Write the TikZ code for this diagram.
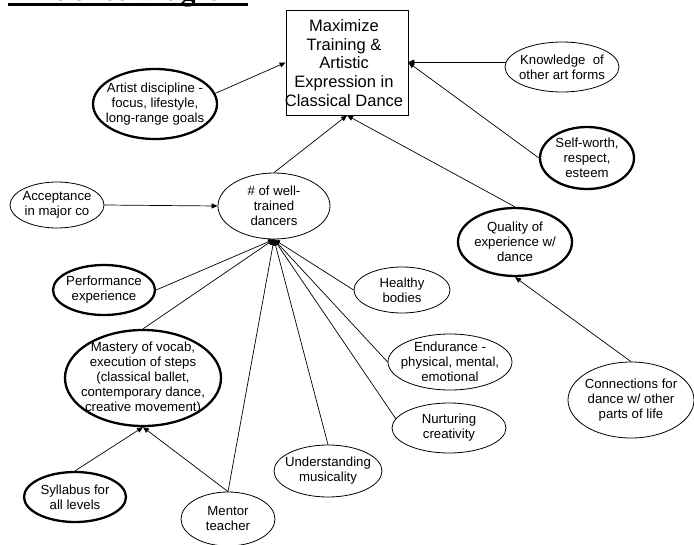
\documentclass[tikz,border=0pt]{standalone}
\usepackage{fontspec}
\setmainfont{Liberation Sans}
\newfontfamily\titlefont{Liberation Serif}
\usetikzlibrary{shapes.geometric,arrows.meta}
\begin{document}
\begin{tikzpicture}[x=1pt,y=-1pt,
  elli/.style={ellipse,draw,line width=0.8pt,inner sep=0pt},
  thk/.style={line width=2.3pt},
  txt/.style={align=center,font=\fontsize{13.2}{15}\selectfont,inner sep=0pt},
  bigtxt/.style={align=center,font=\fontsize{16.5}{18.7}\selectfont,inner sep=0pt},
  arr/.style={line width=0.7pt,-{Triangle[length=6pt,width=5pt]}}]
\useasboundingbox (0,0) rectangle (694,544);
% title (clipped at the top of the page)
\node[anchor=base west,inner sep=0pt,font={\titlefont\fontsize{30}{30}\selectfont\bfseries}] (title) at (8,0.5) {Influence Diagram};
\draw[line width=2.5pt] (8,4.6) -- (248,4.6);
% goal box
\node[draw,line width=0.8pt,minimum width=122pt,minimum height=105pt,inner sep=0pt] (goal) at (347,62.5) {};
\node[bigtxt] (goaltxt) at (344,63) {Maximize\\Training \&\\Artistic\\Expression in\\Classical Dance};
% ellipses
\node[elli,thk,minimum width=124pt,minimum height=70pt,label={[txt]center:Artist discipline -\\focus, lifestyle,\\long-range goals}] (art) at (155,104) {};
\node[elli,minimum width=114pt,minimum height=50pt,label={[txt]center:Knowledge\ \ of\\other art forms}] (kn) at (562,67) {};
\node[elli,thk,minimum width=94pt,minimum height=62pt,label={[txt]center:Self-worth,\\respect,\\esteem}] (self) at (587,158) {};
\node[elli,thk,minimum width=114pt,minimum height=68pt,label={[txt]center:Quality of\\experience w/\\dance}] (qual) at (515,242) {};
\node[elli,minimum width=112pt,minimum height=66pt,label={[txt]center:\# of well-\\trained\\dancers}] (d) at (274,206) {};
\node[elli,minimum width=94pt,minimum height=46pt,label={[txt]center:Acceptance\\in major co}] (acc) at (57,205) {};
\node[elli,thk,minimum width=102pt,minimum height=50pt,label={[txt]center:Performance\\experience}] (perf) at (104,290) {};
\node[elli,minimum width=96pt,minimum height=46pt,label={[txt]center:Healthy\\bodies}] (heal) at (402,290) {};
\node[elli,minimum width=124pt,minimum height=56pt,label={[txt]center:Endurance -\\physical, mental,\\emotional}] (endu) at (450,362) {};
\node[elli,minimum width=114pt,minimum height=50pt,label={[txt]center:Nurturing\\creativity}] (nurt) at (449,428) {};
\node[elli,minimum width=126pt,minimum height=76pt,label={[txt]center:Connections for\\dance w/ other\\parts of life}] (con) at (631,400) {};
\node[elli,thk,minimum width=156pt,minimum height=96pt,label={[txt]center:Mastery of vocab,\\execution of steps\\(classical ballet,\\contemporary dance,\\creative movement)}] (mast) at (143,378) {};
\node[elli,thk,minimum width=102pt,minimum height=50pt,label={[txt]center:Syllabus for\\all levels}] (syl) at (75,497) {};
\node[elli,minimum width=94pt,minimum height=54pt,label={[txt]center:Mentor\\teacher}] (ment) at (228,519) {};
\node[elli,minimum width=108pt,minimum height=52pt,label={[txt]center:Understanding\\musicality}] (mus) at (328,471) {};
% connectors
\draw[arr] (art.10) -- (goal.west);
\draw[arr] (kn.175) -- (kn.175 -| goal.east);
\draw[arr] (self.west) -- (goal.east);
\draw[arr] (qual.north) -- (goal.south);
\draw[arr] (d.north) -- (goal.south);
\draw[arr] (con.north) -- (qual.south);
\draw[arr] (acc.east) -- (d.west);
\draw[arr] (perf.east) -- (d.south);
\draw[arr] (mast.north) -- (d.south);
\draw[arr] (ment.north) -- (d.south);
\draw[arr] (mus.north) -- (d.south);
\draw[arr] (nurt.170) -- (d.south);
\draw[arr] (endu.west) -- (d.south);
\draw[arr] (heal.west) -- (d.south);
\draw[arr] (syl.north) -- (mast.south);
\draw[arr] (ment.north) -- (mast.south);
\end{tikzpicture}
\end{document}
